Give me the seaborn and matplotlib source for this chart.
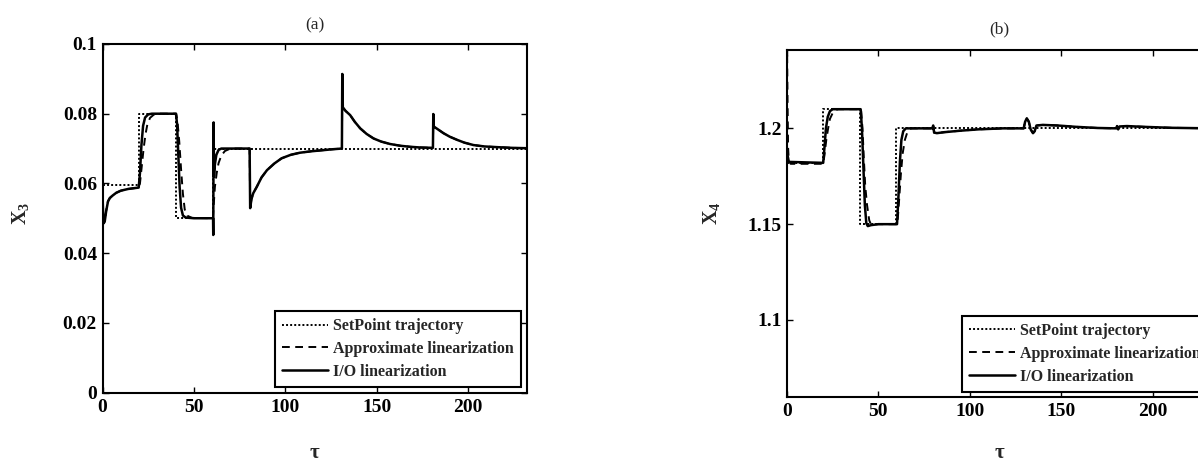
import matplotlib
matplotlib.use("Agg")
import matplotlib.pyplot as plt
import seaborn as sns

# ---------------- data: panel (a), X3 ----------------
sp_t_a = [0, 20, 20, 40, 40, 60.3, 60.3, 232]
sp_v_a = [0.0595, 0.0595, 0.08, 0.08, 0.05, 0.05, 0.07, 0.07]

io_t_a = [0, 0.5, 1.2, 2, 3, 4, 5.5, 7.5, 10, 14, 19.8, 20.5, 21.3, 22.2, 23.3,
          25, 27, 30, 40.2, 40.8, 41.5, 42.2, 43, 44, 45.5, 50, 60.5, 60.6, 60.8,
          61.0, 61.5, 62.3, 63.5, 65, 70, 80.5, 80.8, 81.5, 82.5, 84.4, 87, 90, 94,
          98, 103, 108, 114, 120, 126, 131, 131.2, 131.5, 133, 135.5, 138, 141,
          144.5, 148.3, 152.5, 157.4, 163, 168.4, 174, 180.8, 181, 181.3, 183,
          186.6, 190, 194, 198, 203, 209, 216, 224, 232]
io_v_a = [0.057, 0.0485, 0.049, 0.052, 0.0548, 0.0558, 0.0565, 0.0573, 0.0579,
          0.0584, 0.0588, 0.063, 0.071, 0.0765, 0.0789, 0.0798, 0.080, 0.080,
          0.080, 0.077, 0.068, 0.059, 0.053, 0.0508, 0.0502, 0.050, 0.050, 0.0452,
          0.0775, 0.062, 0.0655, 0.0682, 0.0696, 0.070, 0.070, 0.070, 0.0529,
          0.0555, 0.0572, 0.059, 0.0617, 0.0638, 0.0657, 0.0672, 0.0682, 0.0688,
          0.0692, 0.0695, 0.0698, 0.070, 0.0914, 0.0818, 0.0808, 0.0796, 0.0777,
          0.0758, 0.0742, 0.0729, 0.072, 0.0713, 0.0708, 0.0705, 0.0703, 0.0702,
          0.0799, 0.0763, 0.0757, 0.0744, 0.0734, 0.0725, 0.0717, 0.071, 0.0706,
          0.0704, 0.0702, 0.0701]

# approximate linearization: own transient up to t=70, then it runs under
# the I/O curve (hidden beneath it in the figure)
ap_head_t_a = [0, 0.5, 1.2, 2, 3, 4, 5.5, 7.5, 10, 14, 19.8, 20.5, 21.5, 22.5,
               23.5, 24.5, 26, 28, 31, 40.3, 41, 42, 43, 44, 45, 46.5, 49, 60.4,
               61, 61.5, 62.5, 63.5, 65, 67]
ap_head_v_a = [0.058, 0.0487, 0.0492, 0.0522, 0.0549, 0.0558, 0.0565, 0.0573,
               0.0579, 0.0584, 0.0588, 0.060, 0.065, 0.070, 0.074, 0.0768,
               0.0788, 0.0797, 0.080, 0.080, 0.078, 0.072, 0.064, 0.057, 0.0525,
               0.0507, 0.0501, 0.050, 0.055, 0.059, 0.063, 0.0658, 0.068, 0.0693]
ap_t_a = ap_head_t_a + io_t_a[io_t_a.index(70):]
ap_v_a = ap_head_v_a + io_v_a[io_t_a.index(70):]

# ---------------- data: panel (b), X4 ----------------
sp_t_b = [0, 19.5, 19.5, 39.8, 39.8, 59.8, 59.8, 232]
sp_v_b = [1.182, 1.182, 1.21, 1.21, 1.15, 1.15, 1.2, 1.2]

io_t_b = [0, 0.5, 1, 19.8, 20.5, 21.3, 22.3, 23.5, 25, 40.3, 41, 41.8, 42.6,
          43.4, 44.2, 46, 50, 60.2, 61, 61.8, 62.6, 63.6, 65, 79.5, 80, 80.5, 82,
          86, 95, 105, 118, 129.5, 130.3, 131.2, 132.3, 133.3, 134.6, 135.5,
          136.5, 140, 148, 158, 170, 180.2, 180.6, 181.2, 182, 186, 195, 210, 232]
io_v_b = [1.187, 1.185, 1.1825, 1.182, 1.19, 1.2, 1.206, 1.209, 1.21, 1.21, 1.2,
          1.18, 1.16, 1.1505, 1.149, 1.1495, 1.15, 1.15, 1.165, 1.183, 1.194,
          1.1985, 1.2, 1.2, 1.2015, 1.1978, 1.1975, 1.198, 1.1988, 1.1995, 1.2,
          1.2, 1.2035, 1.2052, 1.2035, 1.1995, 1.1975, 1.1985, 1.2015, 1.2018,
          1.2015, 1.2008, 1.2002, 1.2, 1.2012, 1.1995, 1.201, 1.2012, 1.2008,
          1.2003, 1.2]

ap_head_t_b = [0, 0.3, 0.6, 1, 2, 19.8, 20.5, 21.5, 22.5, 23.5, 25, 26.5, 28,
               40.5, 41.3, 42, 42.8, 43.8, 45, 46, 50, 60.4, 61.3, 62.3, 63.3,
               64.5, 66, 68]
ap_head_v_b = [1.245, 1.215, 1.19, 1.183, 1.1815, 1.1815, 1.186, 1.194, 1.2,
               1.205, 1.208, 1.2095, 1.21, 1.21, 1.2, 1.185, 1.17, 1.16, 1.152,
               1.1497, 1.15, 1.15, 1.162, 1.176, 1.187, 1.194, 1.1985, 1.2]
ap_t_b = ap_head_t_b + io_t_b[io_t_b.index(79.5):]
ap_v_b = ap_head_v_b + io_v_b[io_t_b.index(79.5):]

labels = ["SetPoint trajectory", "Approximate linearization", "I/O linearization"]
xticks = [0, 50, 100, 150, 200]
yticks_a = [0, 0.02, 0.04, 0.06, 0.08, 0.1]
yticklabels_a = ["0", "0.02", "0.04", "0.06", "0.08", "0.1"]
yticks_b = [1.1, 1.15, 1.2]
yticklabels_b = ["1.1", "1.15", "1.2"]

# ---------------- style ----------------
sns.set_style("ticks")
plt.rcParams.update({
    "font.family": ["Liberation Serif", "DejaVu Serif"],
    "font.weight": "bold",
    "mathtext.fontset": "custom",
    "mathtext.rm": "Liberation Serif",
    "mathtext.bf": "Liberation Serif:bold",
    "axes.linewidth": 1.5,
    "axes.edgecolor": "black",
})

W, H = 1198, 466
fig = plt.figure(figsize=(W / 100, H / 100), dpi=100)
axA = fig.add_axes([102.5 / W, (H - 392.5) / H, 424 / W, 348.5 / H])
axB = fig.add_axes([787 / W, (H - 397) / H, 424 / W, 347 / H])


def draw(ax, sp_t, sp_v, ap_t, ap_v, io_t, io_v):
    sns.lineplot(x=sp_t, y=sp_v, ax=ax, color="k", lw=1.4,
                 linestyle=(0, (1, 1.1)), label=labels[0],
                 sort=False, estimator=None)
    sns.lineplot(x=ap_t, y=ap_v, ax=ax, color="k", lw=1.4,
                 linestyle=(0, (4, 2.8)), label=labels[1],
                 sort=False, estimator=None)
    sns.lineplot(x=io_t, y=io_v, ax=ax, color="k", lw=1.8,
                 linestyle="-", label=labels[2],
                 sort=False, estimator=None)


draw(axA, sp_t_a, sp_v_a, ap_t_a, ap_v_a, io_t_a, io_v_a)
draw(axB, sp_t_b, sp_v_b, ap_t_b, ap_v_b, io_t_b, io_v_b)

axA.set_xlim(0, 232)
axA.set_ylim(0, 0.1)
axA.set_yticks(yticks_a)
axA.set_yticklabels(yticklabels_a)
axB.set_xlim(0, 232)
axB.set_ylim(1.0598, 1.2409)
axB.set_yticks(yticks_b)
axB.set_yticklabels(yticklabels_b)

for ax in (axA, axB):
    ax.set_xticks(xticks)
    ax.set_xticklabels([str(v) for v in xticks])
    ax.tick_params(direction="in", top=True, right=True, length=4, width=1,
                   labelsize=14, colors="k")
    ax.tick_params(axis="x", pad=4.5)
    ax.tick_params(axis="y", pad=4)
    for s in ax.spines.values():
        s.set_visible(True)
        s.set_linewidth(1.5)
    ax.set_xlabel("τ", fontsize=15, fontweight="bold", va="center")
    ax.set_facecolor("white")

axA.set_ylabel(r"$\mathbf{X}_\mathbf{3}$", fontsize=14.5, va="center")
axB.set_ylabel(r"$\mathbf{X}_\mathbf{4}$", fontsize=14.5, va="center")
axA.yaxis.set_label_coords(-0.192, 0.515)
axB.yaxis.set_label_coords(-0.177, 0.53)
axA.xaxis.set_label_coords(0.5, -0.174)
axB.xaxis.set_label_coords(0.5, -0.161)

axA.text(0.5, 1.0545, "(a)", transform=axA.transAxes, ha="center",
         va="center", fontsize=12.5, fontweight="normal")
axB.text(0.5, 1.0605, "(b)", transform=axB.transAxes, ha="center",
         va="center", fontsize=12.5, fontweight="normal")

for ax, anchor in ((axA, (0.406, 0.0166)), (axB, (0.4116, 0.0153))):
    h, l = ax.get_legend_handles_labels()
    leg = ax.legend(h, l, loc="lower left", bbox_to_anchor=anchor,
                    borderaxespad=0, frameon=True, fancybox=False,
                    edgecolor="k", framealpha=1, handlelength=2.9,
                    handletextpad=0.3, labelspacing=0.42, borderpad=0.45,
                    prop={"size": 11.5, "weight": "bold"})
    leg.get_frame().set_linewidth(1.5)

fig.savefig("out.png", dpi=100)
